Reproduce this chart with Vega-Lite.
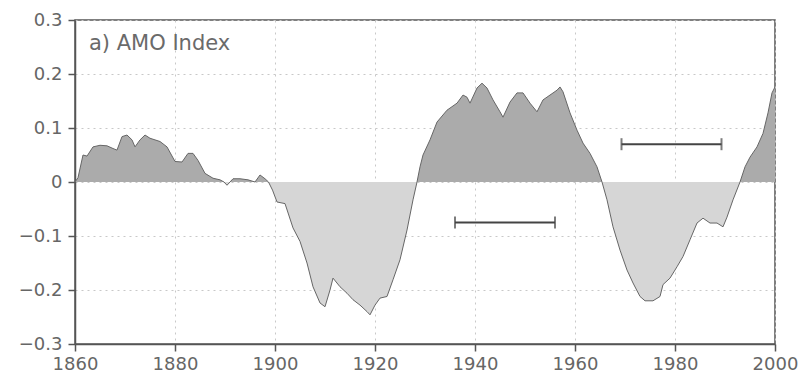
{
  "$schema": "https://vega.github.io/schema/vega-lite/v6.json",
  "width": 700,
  "height": 324,
  "autosize": {"type": "none"},
  "padding": {"left": 75, "top": 20, "right": 29, "bottom": 34},
  "background": "white",
  "config": {
    "view": {"stroke": "#555555", "strokeWidth": 1.5},
    "axis": {
      "labelFont": "DejaVu Sans",
      "labelFontSize": 18,
      "labelColor": "#666666",
      "domainColor": "#555555",
      "domainWidth": 1.5,
      "tickColor": "#555555",
      "tickWidth": 1.5,
      "tickSize": 7,
      "gridColor": "#c8c8c8",
      "gridDash": [2, 4],
      "gridWidth": 1,
      "labelFlush": false,
      "labelOverlap": false,
      "labelBound": false,
      "title": null
    }
  },
  "datasets": {
    "amo": [
      {"year": 1860.0, "v": 0.0},
      {"year": 1860.6, "v": 0.008},
      {"year": 1861.6, "v": 0.05},
      {"year": 1862.4, "v": 0.048},
      {"year": 1863.6, "v": 0.065},
      {"year": 1865.0, "v": 0.068},
      {"year": 1866.4, "v": 0.067},
      {"year": 1867.6, "v": 0.062},
      {"year": 1868.4, "v": 0.059},
      {"year": 1869.4, "v": 0.084},
      {"year": 1870.4, "v": 0.087},
      {"year": 1871.4, "v": 0.078},
      {"year": 1872.0, "v": 0.065},
      {"year": 1873.0, "v": 0.078},
      {"year": 1874.0, "v": 0.087},
      {"year": 1875.0, "v": 0.081},
      {"year": 1877.0, "v": 0.075},
      {"year": 1878.4, "v": 0.065},
      {"year": 1880.0, "v": 0.038},
      {"year": 1881.4, "v": 0.037},
      {"year": 1882.6, "v": 0.053},
      {"year": 1883.6, "v": 0.053},
      {"year": 1884.6, "v": 0.04},
      {"year": 1886.0, "v": 0.016},
      {"year": 1887.6, "v": 0.007},
      {"year": 1889.0, "v": 0.004},
      {"year": 1889.8, "v": 0.0},
      {"year": 1890.4, "v": -0.006},
      {"year": 1891.0, "v": 0.0},
      {"year": 1891.6, "v": 0.006},
      {"year": 1893.0, "v": 0.006},
      {"year": 1894.6, "v": 0.004},
      {"year": 1896.0, "v": 0.0},
      {"year": 1897.0, "v": 0.013},
      {"year": 1898.0, "v": 0.006},
      {"year": 1898.7, "v": 0.0},
      {"year": 1899.5, "v": -0.015},
      {"year": 1900.4, "v": -0.037},
      {"year": 1902.0, "v": -0.04},
      {"year": 1903.6, "v": -0.085},
      {"year": 1905.0, "v": -0.11},
      {"year": 1906.4, "v": -0.15},
      {"year": 1907.6, "v": -0.194},
      {"year": 1909.0, "v": -0.224},
      {"year": 1910.0, "v": -0.231},
      {"year": 1911.0, "v": -0.2},
      {"year": 1911.6, "v": -0.178},
      {"year": 1913.0, "v": -0.194},
      {"year": 1914.4, "v": -0.206},
      {"year": 1915.6, "v": -0.218},
      {"year": 1917.0, "v": -0.228},
      {"year": 1918.4, "v": -0.24},
      {"year": 1919.0, "v": -0.246},
      {"year": 1920.0, "v": -0.228},
      {"year": 1921.0, "v": -0.215},
      {"year": 1922.4, "v": -0.212},
      {"year": 1923.6, "v": -0.181},
      {"year": 1925.0, "v": -0.144},
      {"year": 1926.4, "v": -0.089},
      {"year": 1927.6, "v": -0.033},
      {"year": 1928.4, "v": 0.0},
      {"year": 1929.0, "v": 0.028},
      {"year": 1929.6, "v": 0.05},
      {"year": 1931.0, "v": 0.078},
      {"year": 1932.4, "v": 0.111},
      {"year": 1934.4, "v": 0.133},
      {"year": 1936.4, "v": 0.146},
      {"year": 1937.6, "v": 0.161},
      {"year": 1938.4, "v": 0.157},
      {"year": 1939.0, "v": 0.146},
      {"year": 1940.4, "v": 0.174},
      {"year": 1941.4, "v": 0.183},
      {"year": 1942.4, "v": 0.174},
      {"year": 1943.6, "v": 0.152},
      {"year": 1945.0, "v": 0.13},
      {"year": 1945.6, "v": 0.12},
      {"year": 1947.0, "v": 0.148},
      {"year": 1948.4, "v": 0.165},
      {"year": 1949.6, "v": 0.165},
      {"year": 1951.0, "v": 0.146},
      {"year": 1952.4, "v": 0.13},
      {"year": 1953.6, "v": 0.152},
      {"year": 1955.0, "v": 0.161},
      {"year": 1956.4, "v": 0.17},
      {"year": 1957.0, "v": 0.176},
      {"year": 1957.6, "v": 0.167},
      {"year": 1959.0, "v": 0.128},
      {"year": 1960.4, "v": 0.096},
      {"year": 1961.6, "v": 0.072},
      {"year": 1963.0, "v": 0.053},
      {"year": 1964.4, "v": 0.028},
      {"year": 1965.4, "v": 0.0},
      {"year": 1966.4, "v": -0.033},
      {"year": 1967.6, "v": -0.083},
      {"year": 1969.0, "v": -0.126},
      {"year": 1970.4, "v": -0.163},
      {"year": 1971.6, "v": -0.187},
      {"year": 1973.0, "v": -0.212},
      {"year": 1974.0, "v": -0.22},
      {"year": 1975.6, "v": -0.22},
      {"year": 1977.0, "v": -0.212},
      {"year": 1977.6, "v": -0.19},
      {"year": 1979.0, "v": -0.178},
      {"year": 1980.4, "v": -0.157},
      {"year": 1981.6, "v": -0.138},
      {"year": 1983.0, "v": -0.107},
      {"year": 1984.4, "v": -0.076},
      {"year": 1985.6, "v": -0.067},
      {"year": 1987.0, "v": -0.076},
      {"year": 1988.4, "v": -0.076},
      {"year": 1989.6, "v": -0.083},
      {"year": 1990.4, "v": -0.065},
      {"year": 1991.6, "v": -0.033},
      {"year": 1993.0, "v": 0.0},
      {"year": 1994.0, "v": 0.028},
      {"year": 1995.0, "v": 0.046},
      {"year": 1996.4, "v": 0.065},
      {"year": 1997.6, "v": 0.09},
      {"year": 1998.6, "v": 0.128},
      {"year": 1999.4, "v": 0.165},
      {"year": 2000.0, "v": 0.176}
    ],
    "bars": [
      {"start": 1936, "end": 1956, "level": -0.075},
      {"start": 1969.3, "end": 1989.3, "level": 0.07}
    ]
  },
  "layer": [
    {
      "data": {"name": "amo"},
      "transform": [{"filter": "datum.v >= 0"}],
      "mark": {"type": "area", "color": "#ababab", "clip": true},
      "encoding": {
        "x": {
          "field": "year",
          "type": "quantitative",
          "scale": {"domain": [1860, 2000], "nice": false, "zero": false},
          "axis": {"values": [1860, 1880, 1900, 1920, 1940, 1960, 1980, 2000], "format": "d", "labelPadding": 4}
        },
        "y": {
          "field": "v",
          "type": "quantitative",
          "scale": {"domain": [-0.3, 0.3], "nice": false},
          "axis": {"values": [-0.3, -0.2, -0.1, 0, 0.1, 0.2, 0.3], "format": ".1~f", "labelPadding": 6}
        },
        "y2": {"datum": 0}
      }
    },
    {
      "data": {"name": "amo"},
      "transform": [{"filter": "datum.v <= 0"}],
      "mark": {"type": "area", "color": "#d6d6d6", "clip": true},
      "encoding": {
        "x": {"field": "year", "type": "quantitative"},
        "y": {"field": "v", "type": "quantitative"},
        "y2": {"datum": 0}
      }
    },
    {
      "data": {"name": "amo"},
      "mark": {"type": "line", "color": "#666666", "strokeWidth": 1, "clip": true},
      "encoding": {
        "x": {"field": "year", "type": "quantitative"},
        "y": {"field": "v", "type": "quantitative"}
      }
    },
    {
      "data": {"name": "bars"},
      "mark": {"type": "rule", "color": "#444444", "strokeWidth": 2},
      "encoding": {
        "x": {"field": "start", "type": "quantitative"},
        "x2": {"field": "end"},
        "y": {"field": "level", "type": "quantitative"}
      }
    },
    {
      "data": {"name": "bars"},
      "mark": {"type": "tick", "orient": "vertical", "color": "#444444", "size": 12, "thickness": 2},
      "encoding": {
        "x": {"field": "start", "type": "quantitative"},
        "y": {"field": "level", "type": "quantitative"}
      }
    },
    {
      "data": {"name": "bars"},
      "mark": {"type": "tick", "orient": "vertical", "color": "#444444", "size": 12, "thickness": 2},
      "encoding": {
        "x": {"field": "end", "type": "quantitative"},
        "y": {"field": "level", "type": "quantitative"}
      }
    },
    {
      "data": {"values": [{"label": "a)  AMO  Index", "year": 1862.8, "v": 0.255}]},
      "mark": {"type": "text", "align": "left", "baseline": "middle", "font": "DejaVu Sans", "fontSize": 21, "color": "#6a6a6a"},
      "encoding": {
        "x": {"field": "year", "type": "quantitative"},
        "y": {"field": "v", "type": "quantitative"},
        "text": {"field": "label"}
      }
    }
  ]
}
